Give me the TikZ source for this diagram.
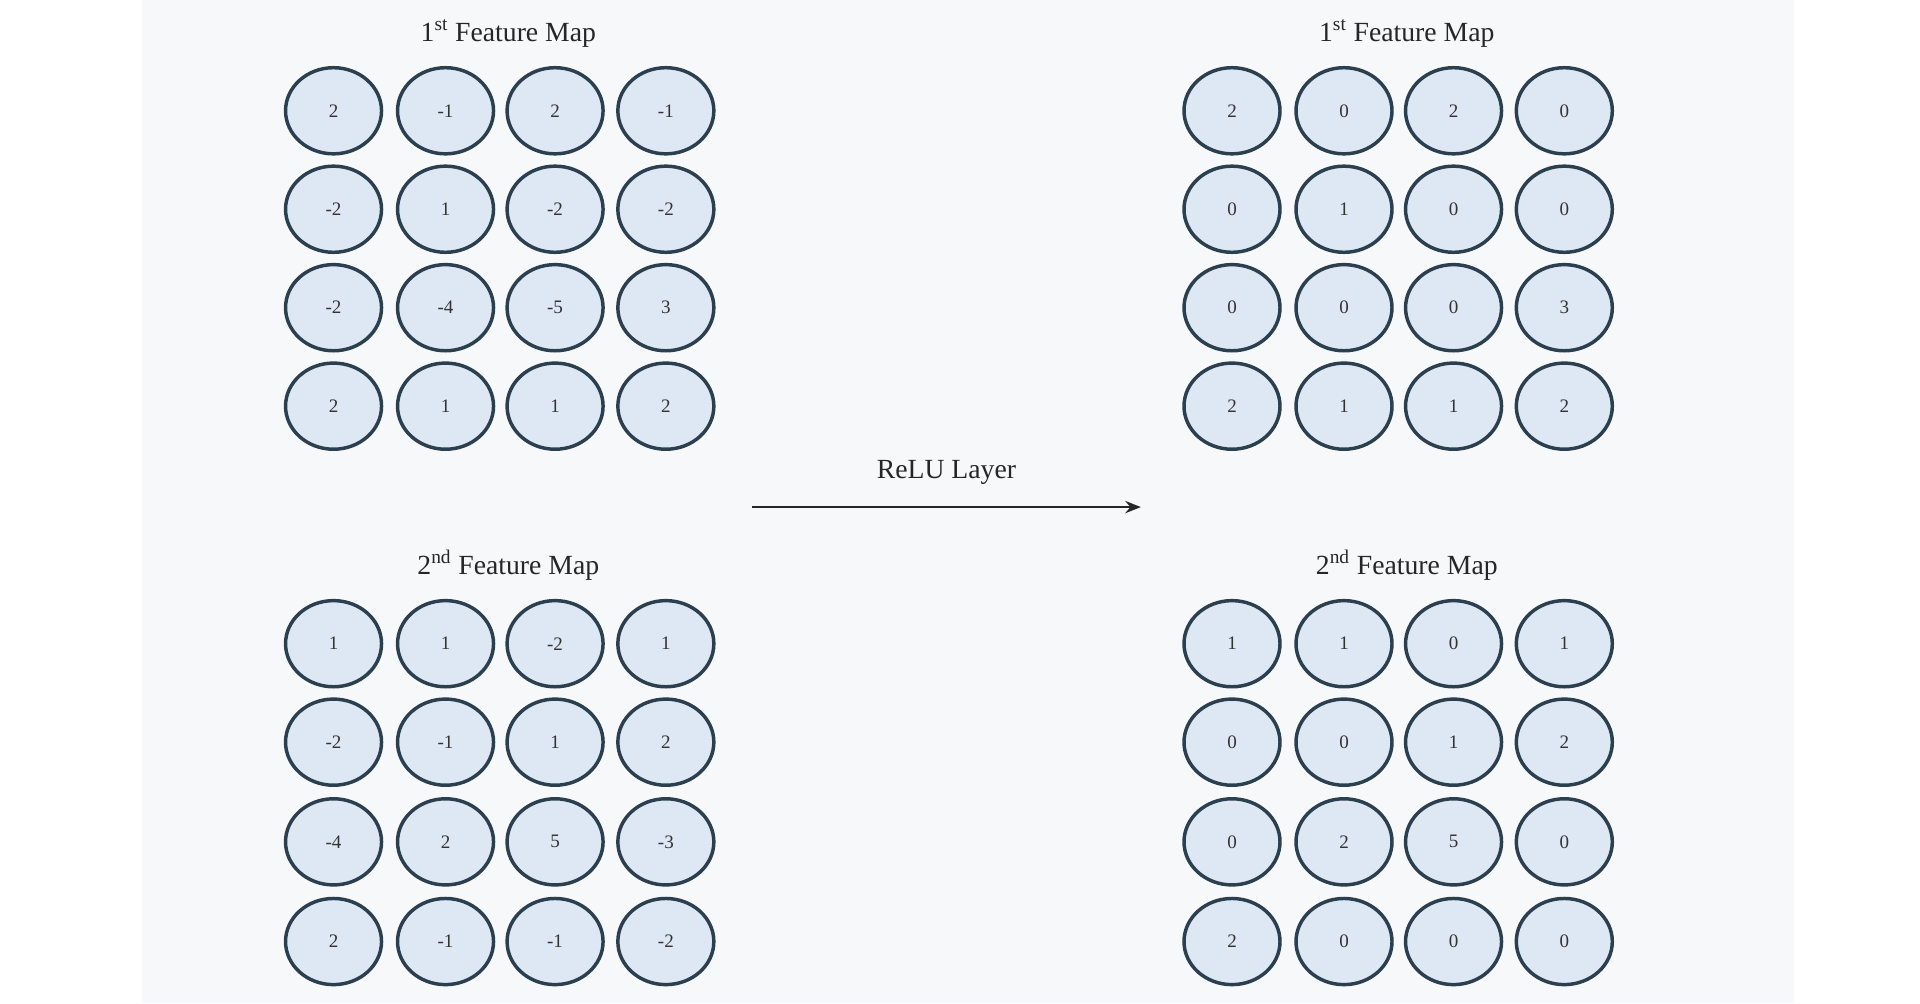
\documentclass[tikz,border=0pt]{standalone}
\usepackage{fontspec}
\setmainfont{Liberation Serif}
\usetikzlibrary{shapes.geometric,arrows.meta}
\definecolor{bgc}{HTML}{F7F8FA}
\definecolor{cellfill}{HTML}{DDE8F4}
\definecolor{celldraw}{HTML}{2B3F4F}
\tikzset{
  cell/.style={ellipse,draw=celldraw,fill=cellfill,line width=2pt,minimum width=78*0.025cm,minimum height=70*0.025cm,inner sep=0pt,font=\fontsize{11}{13}\selectfont,text=black!80},
  title/.style={font=\fontsize{16}{19}\selectfont,text=black!85},
  arr/.style={-{Stealth[length=9pt,width=7pt]},line width=1.6pt,draw=black!85}
}
\begin{document}
\begin{tikzpicture}[x=0.025cm,y=-0.025cm]
\useasboundingbox (0,0) rectangle (1560,815);
\fill[white] (0,0) rectangle (1560,815);
\fill[bgc] (115,0) rectangle (1458,815);
% titles
\node[title] (t1) at (413,27) {1\textsuperscript{st} Feature Map};
\node[title] (t2) at (413,459) {2\textsuperscript{nd} Feature Map};
\node[title] (t3) at (1143,27) {1\textsuperscript{st} Feature Map};
\node[title] (t4) at (1143,459) {2\textsuperscript{nd} Feature Map};
% grids
\def\xsL{271,362,451,541}
\def\xsR{1001,1092,1181,1271}
\def\ysT{90,170,250,330}
\def\ysB{523,603,684,765}
\newcommand\mygrid[4]{%
  \foreach \row [count=\r] in {#4}{
    \foreach \v [count=\c] in \row {
      \pgfmathsetmacro\xx{{#2}[\c-1]}
      \pgfmathsetmacro\yy{{#3}[\r-1]}
      \node[cell] (#1-\r-\c) at (\xx,\yy) {\v};
    }
  }}
\mygrid{a}{\xsL}{\ysT}{{2,-1,2,-1},{-2,1,-2,-2},{-2,-4,-5,3},{2,1,1,2}}
\mygrid{b}{\xsL}{\ysB}{{1,1,-2,1},{-2,-1,1,2},{-4,2,5,-3},{2,-1,-1,-2}}
\mygrid{c}{\xsR}{\ysT}{{2,0,2,0},{0,1,0,0},{0,0,0,3},{2,1,1,2}}
\mygrid{d}{\xsR}{\ysB}{{1,1,0,1},{0,0,1,2},{0,2,5,0},{2,0,0,0}}
% arrow
\coordinate (s) at (611,412);
\coordinate (e) at (927,412);
\draw[arr] (s) -- node[title,above=9pt] (lbl) {ReLU Layer} (e);
\end{tikzpicture}
\end{document}
